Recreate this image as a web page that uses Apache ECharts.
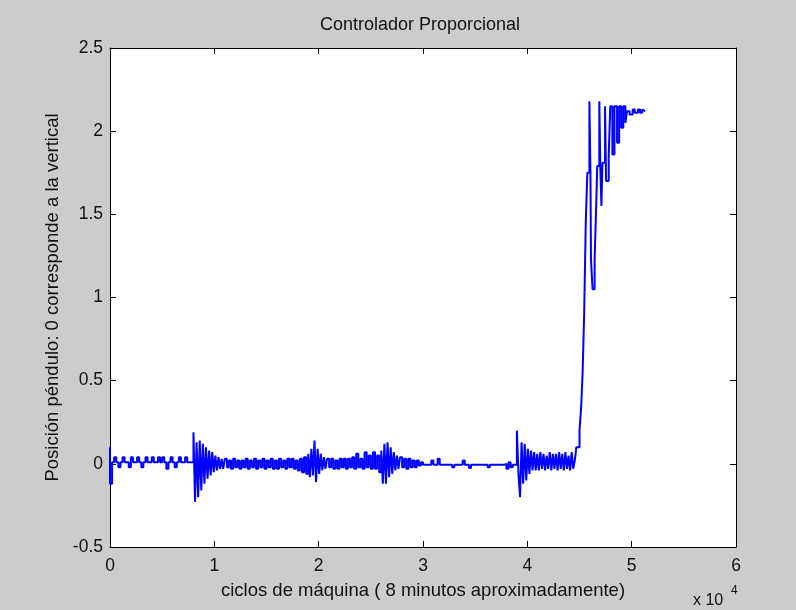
<!DOCTYPE html>
<html lang="es">
<head>
  <meta charset="UTF-8">
  <title>Controlador Proporcional</title>
  <script src="https://cdn.jsdelivr.net/npm/echarts@6/dist/echarts.min.js"></script>
  <style>
    html, body { margin: 0; padding: 0; background: #cccccc; }
    .wrap { position: relative; width: 796px; height: 610px; }
    .plot { position: absolute; left: 110px; top: 48px; width: 626px; height: 499px; background: #ffffff; }
    #box { position: absolute; left: 0; top: 0; width: 796px; height: 610px; }
  </style>
</head>
<body>
<div class="wrap">
  <div class="plot"></div>
  <div id="box"></div>
</div>
<script>
  // posicion del pendulo, en tramos (ciclos de maquina)
  var quiet1 = [
    0.10, -0.12, 0.01, 0.04, 0.01, -0.02, 0.01, 0.04, 0.01, 0.01,
    -0.02, 0.04, 0.01, 0.01, 0.04, 0.01, -0.02, 0.01, 0.04, 0.01,
    0.01, 0.04, 0.01, 0.01, 0.04, 0.01, 0.04, 0.01, -0.03, 0.01,
    0.04, 0.01, -0.02, 0.01, 0.04, 0.01, 0.01, 0.04, 0.01, 0.01
  ];
  var burst1 = [
    0.01, 0.19, -0.23, 0.13, -0.20, 0.14, -0.16, 0.12, -0.12, 0.10,
    -0.09, 0.08, -0.07, 0.07, -0.05, 0.05, -0.04, 0.04, -0.03, 0.03
  ];
  var quiet2 = [
    -0.03, 0.03, -0.02, 0.02, -0.03, 0.03, -0.02, 0.02, -0.03, 0.02,
    -0.02, 0.03, -0.03, 0.02, -0.02, 0.03, -0.03, 0.02, -0.02, 0.03,
    -0.03, 0.02, -0.02, 0.03, -0.03, 0.02, -0.03, 0.03, -0.02, 0.02,
    -0.03, 0.03, -0.02, 0.03, -0.03, 0.02, -0.04, 0.03, -0.05, 0.04
  ];
  var burst2 = [-0.06, 0.06, -0.08, 0.09, -0.07, 0.14, -0.11, 0.09, -0.06, 0.06, -0.04, 0.04];
  var quiet3 = [
    -0.03, 0.03, -0.02, 0.03, -0.03, 0.02, -0.03, 0.03, -0.02, 0.03,
    -0.03, 0.03, -0.02, 0.04, -0.03, 0.06, -0.02, 0.03, -0.03, 0.07,
    -0.02, 0.05, -0.03, 0.07, -0.03, 0.05
  ];
  var burst3 = [-0.05, 0.08, -0.12, 0.12, -0.12, 0.13, -0.08, 0.10, -0.06, 0.07, -0.04, 0.05];
  var quiet4 = [
    -0.03, 0.04, -0.02, 0.03, -0.03, 0.03, -0.02, 0.02, -0.02, 0.02, -0.01, 0.01,
    -0.005, -0.005, -0.005, -0.005, 0.02, -0.005, -0.005, 0.03, -0.005, -0.005, -0.005,
    -0.005, -0.005, -0.005, -0.02, -0.005, -0.005, -0.005, -0.005, 0.02, -0.005, -0.005,
    -0.025, -0.005, -0.005, -0.005, -0.005, -0.005, -0.005, -0.005, -0.005, -0.02, -0.005,
    -0.005, -0.005, -0.005, -0.005, -0.005, -0.005, 0.0, -0.03, 0.01, -0.02, -0.005
  ];
  var burst4 = [-0.005, 0.20, -0.06, -0.20, 0.13, -0.12, 0.12, -0.10, 0.09, -0.06, 0.08, -0.04, 0.07, -0.04];
  var quiet5 = [
    0.06, -0.04, 0.07, -0.03, 0.06, -0.04, 0.05, -0.03, 0.07, -0.04,
    0.06, -0.03, 0.06, -0.04, 0.07, -0.03, 0.06, -0.04, 0.07, -0.03,
    0.05, -0.04, 0.07, -0.03, 0.02
  ];
  // subida y oscilacion final [ciclo, posicion]
  var rise = [
    [44800, 0.10], [45000, 0.10], [45150, 0.20], [45300, 0.33], [45450, 0.55],
    [45600, 0.91], [45750, 1.45], [45950, 1.75], [46050, 2.18], [46100, 1.75],
    [46250, 1.23], [46450, 1.05], [46600, 1.23], [46700, 1.55], [46900, 1.79],
    [47000, 2.18], [47100, 1.77], [47200, 1.55], [47450, 1.81], [47550, 2.15],
    [47800, 1.70], [47950, 1.85], [48150, 2.15], [48350, 1.86], [48600, 2.15],
    [48800, 1.93], [49000, 2.15], [49200, 2.02], [49400, 2.15], [49550, 2.05],
    [49800, 2.12], [50100, 2.10], [50300, 2.13], [50600, 2.11], [50800, 2.13],
    [51000, 2.11], [51150, 2.13], [51300, 2.12]
  ];

  // inicio y paso (ciclos) de cada tramo muestreado
  var segments = [
    { start: 0, step: 200, values: quiet1 },
    { start: 8000, step: 150, values: burst1 },
    { start: 11000, step: 200, values: quiet2 },
    { start: 19000, step: 150, values: burst2 },
    { start: 20800, step: 200, values: quiet3 },
    { start: 26000, step: 150, values: burst3 },
    { start: 27800, step: 200, values: quiet4 },
    { start: 39000, step: 150, values: burst4 },
    { start: 41100, step: 150, values: quiet5 }
  ];

  var xTicks = [0, 10000, 20000, 30000, 40000, 50000, 60000];

  var seriesData = [];
  segments.forEach(function (seg) {
    seg.values.forEach(function (v, i) {
      seriesData.push([seg.start + i * seg.step, v]);
    });
  });
  seriesData = seriesData.concat(rise);

  var font = 'Liberation Sans, Arial, sans-serif';
  var plotW = 626, plotH = 499;
  var chart = echarts.init(document.getElementById('box'));

  function tick(inside) {
    return { show: true, inside: inside, length: 6, lineStyle: { color: '#000', width: 1 } };
  }
  function line(show) {
    return { show: show, onZero: false, lineStyle: { color: '#000', width: 1 } };
  }
  function noSplit() {
    return { show: false };
  }
  function xBase(extra) {
    var o = { type: 'value', min: xTicks[0], max: xTicks[xTicks.length - 1], interval: 10000,
      axisLabel: { show: false }, splitLine: noSplit() };
    for (var k in extra) o[k] = extra[k];
    return o;
  }
  function yBase(extra) {
    var o = { type: 'value', min: -0.5, max: 2.5, interval: 0.5,
      axisLabel: { show: false }, splitLine: noSplit() };
    for (var k in extra) o[k] = extra[k];
    return o;
  }

  var option = {
    animation: false,
    grid: { left: 110, right: 60, top: 48, bottom: 63 },
    xAxis: [
      xBase({
        position: 'bottom',
        name: 'ciclos de máquina ( 8 minutos aproximadamente)',
        nameLocation: 'middle',
        nameGap: 34,
        nameTextStyle: { fontFamily: font, fontSize: 18.5, color: '#111' },
        axisLine: line(true),
        axisTick: tick(true),
        axisLabel: {
          margin: 10,
          fontFamily: font,
          fontSize: 17.5,
          color: '#111',
          formatter: function (v) { return v / 10000; }
        }
      }),
      xBase({ position: 'top', axisLine: line(true), axisTick: tick(true) }),
      // marcas interiores: eje superior desplazado al borde inferior (marcas hacia arriba)
      xBase({ position: 'top', offset: -plotH, axisLine: line(false), axisTick: tick(false) }),
      // eje inferior desplazado al borde superior (marcas hacia abajo)
      xBase({ position: 'bottom', offset: -plotH, axisLine: line(false), axisTick: tick(false) })
    ],
    yAxis: [
      yBase({
        position: 'left',
        name: 'Posición péndulo: 0 corresponde a la vertical',
        nameLocation: 'middle',
        nameGap: 45,
        nameTextStyle: { fontFamily: font, fontSize: 18.5, color: '#111' },
        axisLine: line(true),
        axisTick: tick(true),
        axisLabel: { margin: 7, fontFamily: font, fontSize: 17.5, color: '#111' }
      }),
      yBase({ position: 'right', axisLine: line(true), axisTick: tick(true) }),
      yBase({ position: 'right', offset: -plotW, axisLine: line(false), axisTick: tick(false) }),
      yBase({ position: 'left', offset: -plotW, axisLine: line(false), axisTick: tick(false) })
    ],
    graphic: [
      {
        type: 'text',
        left: 320,
        top: 16,
        style: {
          text: 'Controlador Proporcional',
          fontFamily: font,
          fontSize: 18,
          fill: '#111'
        }
      },
      {
        type: 'text',
        left: 693,
        top: 593,
        style: { text: 'x 10', fontFamily: font, fontSize: 16, fill: '#111' }
      },
      {
        type: 'text',
        left: 731,
        top: 585,
        style: { text: '4', fontFamily: font, fontSize: 12, fill: '#111' }
      }
    ],
    series: [
      {
        type: 'line',
        xAxisIndex: 0,
        yAxisIndex: 0,
        data: seriesData,
        step: 'start',
        symbol: 'none',
        lineStyle: { color: '#0000ff', width: 2 }
      }
    ]
  };

  chart.setOption(option);
</script>
</body>
</html>
